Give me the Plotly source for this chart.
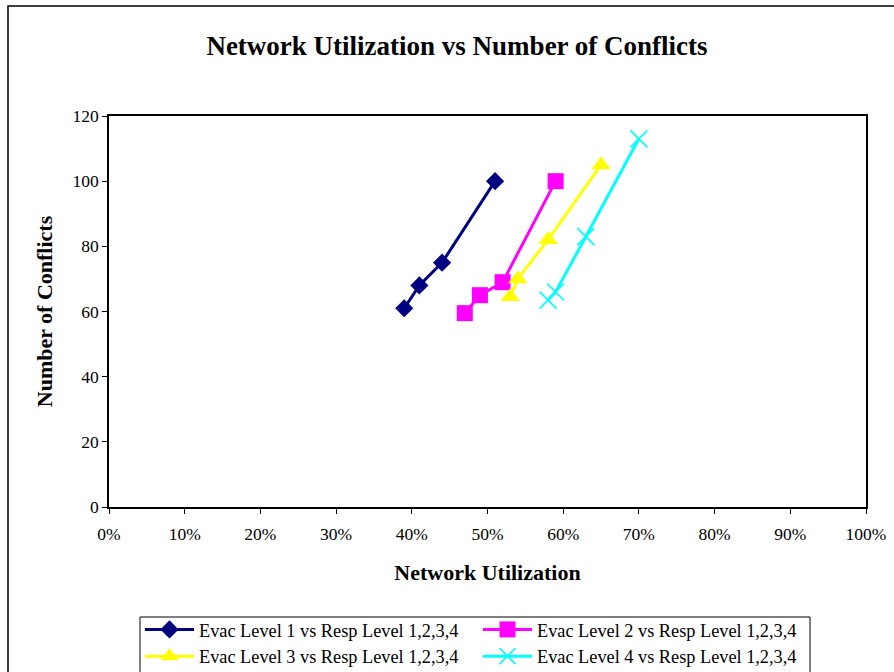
import plotly.graph_objects as go

# Network utilization (fraction) and number of conflicts for each evacuation level
series_names = [
    "Evac Level 1 vs Resp Level 1,2,3,4",
    "Evac Level 2 vs Resp Level 1,2,3,4",
    "Evac Level 3 vs Resp Level 1,2,3,4",
    "Evac Level 4 vs Resp Level 1,2,3,4",
]
evac1_util = [0.39, 0.41, 0.44, 0.51]
evac1_conf = [61, 68, 75, 100]
evac2_util = [0.47, 0.49, 0.52, 0.59]
evac2_conf = [59.5, 65, 69, 100]
evac3_util = [0.53, 0.54, 0.58, 0.65]
evac3_conf = [64.5, 70, 82, 105]
evac4_util = [0.58, 0.59, 0.63, 0.70]
evac4_conf = [63.5, 66, 83, 113]

x_ticks = [i / 10 for i in range(11)]
x_tick_text = [f"{i * 10}%" for i in range(11)]
y_ticks = [0, 20, 40, 60, 80, 100, 120]

FONT = "Liberation Serif, Times New Roman, serif"

styles = [
    dict(color="#000080", symbol="diamond", size=14, lw=3),
    dict(color="#FF00FF", symbol="square", size=16, lw=3),
    dict(color="#FFFF00", symbol="triangle-up", size=17, lw=3),
    dict(color="#00FFFF", symbol="x-thin", size=17, lw=3),
]
data = [
    (evac1_util, evac1_conf),
    (evac2_util, evac2_conf),
    (evac3_util, evac3_conf),
    (evac4_util, evac4_conf),
]

fig = go.Figure()
for name, (xs, ys), st in zip(series_names, data, styles):
    marker = dict(symbol=st["symbol"], size=st["size"], color=st["color"])
    if st["symbol"] == "x-thin":
        marker["line"] = dict(color=st["color"], width=1.6)
    fig.add_trace(go.Scatter(
        x=xs, y=ys, name=name, mode="lines+markers",
        line=dict(color=st["color"], width=st["lw"]),
        marker=marker,
    ))

# plot area spans 757 x 391 px; outer chart frame extends past the page edge
L, R, T, B = 109, 28, 116, 165
W, H = 894, 672
pw, ph = W - L - R, H - T - B

def px(x):
    return (x - L) / pw

def py(y):
    return (H - B - y) / ph

# outer chart frame
fig.add_shape(type="rect", xref="paper", yref="paper",
              x0=px(8), x1=px(920), y0=py(6), y1=py(700),
              line=dict(color="#000000", width=1.5), fillcolor="rgba(0,0,0,0)",
              layer="below")
# legend frame
fig.add_shape(type="rect", xref="paper", yref="paper",
              x0=px(140), x1=px(810), y0=py(617), y1=py(700),
              line=dict(color="#000000", width=1), fillcolor="rgba(0,0,0,0)",
              layer="below")

fig.update_layout(
    width=W, height=H,
    margin=dict(l=L, r=R, t=T, b=B, autoexpand=False),
    paper_bgcolor="white", plot_bgcolor="white",
    font=dict(family=FONT, size=17, color="black"),
    title=dict(text="<b>Network Utilization vs Number of Conflicts</b>",
               font=dict(family=FONT, size=27, color="black"),
               x=px(457), xanchor="center", xref="paper",
               y=1 - 46 / H, yanchor="middle"),
    showlegend=True,
    legend=dict(
        orientation="h", x=px(140), xanchor="left", y=py(611), yanchor="top",
        borderwidth=0, bgcolor="rgba(0,0,0,0)",
        font=dict(family=FONT, size=18.3, color="black"),
        entrywidth=274, entrywidthmode="pixels",
        itemwidth=49,
    ),
    xaxis=dict(
        range=[0, 1], tickvals=x_ticks, ticktext=x_tick_text,
        showgrid=False, zeroline=False, showline=True, mirror=True,
        linecolor="black", linewidth=1.5, ticks="outside", ticklen=5,
        tickcolor="black", tickfont=dict(family=FONT, size=17.5),
        ticklabelstandoff=5,
        title=dict(text="<b>Network Utilization</b>",
                   font=dict(family=FONT, size=22), standoff=22),
    ),
    yaxis=dict(
        range=[0, 120], tickvals=y_ticks,
        showgrid=False, zeroline=False, showline=True, mirror=True,
        linecolor="black", linewidth=1.5, ticks="outside", ticklen=5,
        tickcolor="black", tickfont=dict(family=FONT, size=17.5),
        title=dict(text="<b>Number of Conflicts</b>",
                   font=dict(family=FONT, size=22), standoff=14),
    ),
)

fig.write_html("out.html")
